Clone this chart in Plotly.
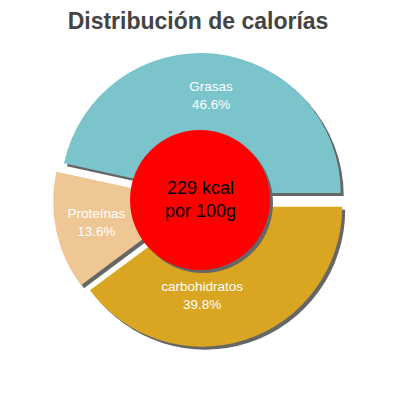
import plotly.graph_objects as go

# Datos del gráfico (orden horario desde las 3 en punto)
etiquetas = ["carbohidratos", "Proteínas", "Grasas"]
valores = [39.8, 13.6, 46.6]
colores = ["#daa521", "#efc794", "#7bc4cc"]
texto_centro = "229 kcal<br>por 100g"
titulo = "Distribución de calorías"

# Tamaño del pie en pixeles (la página tiene 8px de margen)
W = H = 400
cx, cy = 192, 192
radio = 140
pull = 0.05
media = radio * (1 + pull)
sombra = 3

def dominio(dx, dy):
    return dict(x=[(cx - media + dx) / W, (cx + media + dx) / W],
                y=[1 - (cy + media + dy) / H, 1 - (cy - media + dy) / H])

fig = go.Figure()

# Sombra gris detrás del pie
fig.add_trace(go.Pie(
    labels=etiquetas, values=valores, sort=False,
    direction="clockwise", rotation=90,
    pull=pull, hole=0.4,
    marker=dict(colors=["#666666"] * 3, line=dict(width=0)),
    textinfo="none", hoverinfo="skip", showlegend=False,
    domain=dominio(sombra, sombra)
))

# Pie principal
fig.add_trace(go.Pie(
    labels=etiquetas, values=valores, sort=False,
    direction="clockwise", rotation=90,
    pull=pull, hole=0.4,
    marker=dict(colors=colores, line=dict(width=0)),
    texttemplate="%{label}<br>%{percent:.1%}",
    textposition="inside", insidetextorientation="horizontal",
    textfont=dict(family="Liberation Sans", size=13.5, color="white"),
    showlegend=False,
    domain=dominio(0, 0)
))

# Circulo rojo central con sombra
r_c = 70
fig.add_shape(type="circle", xref="paper", yref="paper", layer="above",
              x0=(cx - r_c + sombra) / W, x1=(cx + r_c + sombra) / W,
              y0=1 - (cy + r_c + sombra) / H, y1=1 - (cy - r_c + sombra) / H,
              fillcolor="#666666", line=dict(width=0))
fig.add_shape(type="circle", xref="paper", yref="paper", layer="above",
              x0=(cx - r_c) / W, x1=(cx + r_c) / W,
              y0=1 - (cy + r_c) / H, y1=1 - (cy - r_c) / H,
              fillcolor="#ff0000", line=dict(width=0))

fig.add_annotation(text=texto_centro, xref="paper", yref="paper",
                   x=cx / W, y=1 - (cy - 1) / H, showarrow=False,
                   font=dict(family="Liberation Sans", size=18, color="black"))

fig.update_layout(
    title=dict(text="<b>" + titulo + "</b>", x=190 / W, xanchor="center",
               y=1 - 13 / H, yanchor="middle",
               font=dict(family="Liberation Sans", size=23, color="#444444")),
    width=W, height=H,
    margin=dict(l=0, r=0, t=0, b=0),
    paper_bgcolor="white", plot_bgcolor="white"
)

fig.write_html("out.html")
